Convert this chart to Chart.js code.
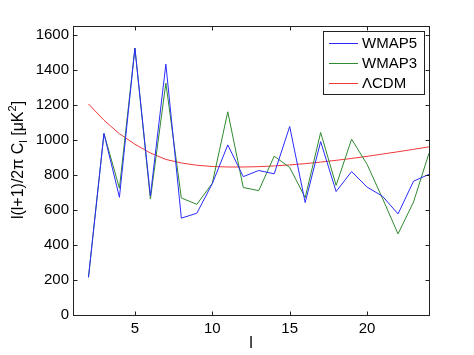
<!DOCTYPE html>
<html>
<head>
<meta charset="utf-8">
<script src="https://cdn.jsdelivr.net/npm/chart.js@4.4.0/dist/chart.umd.min.js"></script>
<style>
  html, body { margin: 0; padding: 0; background: #fff; }
  #wrap { width: 474px; height: 355px; }
</style>
</head>
<body>
<div id="wrap"><canvas id="c" width="474" height="355"></canvas></div>
<script>
// ---- data ----
const ells = [2, 3, 4, 5, 6, 7, 8, 9, 10, 11, 12, 13, 14, 15, 16, 17, 18, 19, 20, 21, 22, 23, 24];
const wmap5 = [215, 1036, 672, 1524, 680, 1432, 553, 581, 750, 971, 790, 825, 806, 1076, 642, 990, 705, 819, 730, 678, 577, 764, 803];
const wmap3 = [215, 1036, 724, 1524, 662, 1324, 668, 632, 752, 1160, 728, 710, 907, 842, 670, 1042, 740, 1004, 860, 665, 463, 645, 924];
const lcdm  = [1205, 1112, 1035, 975, 925, 888, 868, 855, 848, 845, 845, 847, 851, 857, 864, 873, 883, 894, 906, 919, 932, 946, 960];
const xTicks = [5, 10, 15, 20];
const yTicks = [0, 200, 400, 600, 800, 1000, 1200, 1400, 1600];
const seriesLabels = ['WMAP5', 'WMAP3', '\u039BCDM'];
const xTitle = 'l';

const FONT = '"Liberation Sans", Arial, Helvetica, sans-serif';
const colors = ['#2a2aff', '#2f8a2f', '#f03838'];

function pts(arr) { return ells.map((l, i) => ({ x: l, y: arr[i] })); }

const boxPlugin = {
  id: 'boxPlugin',
  afterDraw(chart) {
    const ctx = chart.ctx;
    const a = chart.chartArea;
    const xs = chart.scales.x, ys = chart.scales.y;
    ctx.save();
    ctx.strokeStyle = '#222';
    ctx.lineWidth = 1;
    const L = Math.round(a.left) + 0.5, R = Math.round(a.right) + 0.5;
    const T = Math.round(a.top) + 0.5, B = Math.round(a.bottom) + 0.5;
    ctx.strokeRect(L, T, R - L, B - T);
    const tl = 4;
    ctx.beginPath();
    xTicks.forEach(v => {
      const px = Math.round(xs.getPixelForValue(v)) + 0.5;
      ctx.moveTo(px, B); ctx.lineTo(px, B - tl);
      ctx.moveTo(px, T); ctx.lineTo(px, T + tl);
    });
    yTicks.forEach(v => {
      const py = Math.round(ys.getPixelForValue(v)) + 0.5;
      ctx.moveTo(L, py); ctx.lineTo(L + tl, py);
      ctx.moveTo(R, py); ctx.lineTo(R - tl, py);
    });
    ctx.stroke();

    // legend
    const lx = 323.5, ly = 31.5, lw = 101, lh = 63;
    ctx.fillStyle = '#fff';
    ctx.fillRect(lx, ly, lw, lh);
    ctx.strokeStyle = '#222';
    ctx.strokeRect(lx, ly, lw, lh);
    ctx.font = '15px ' + FONT;
    ctx.textBaseline = 'middle';
    ctx.textAlign = 'left';
    for (let i = 0; i < seriesLabels.length; i++) {
      const y = 43.5 + i * 20;
      ctx.beginPath();
      ctx.strokeStyle = colors[i];
      ctx.lineWidth = 1;
      ctx.moveTo(329, y);
      ctx.lineTo(358, y);
      ctx.stroke();
      ctx.fillStyle = '#000';
      ctx.fillText(seriesLabels[i], 362, y + 0.5);
    }

    // x title
    ctx.fillStyle = '#000';
    ctx.font = '16px ' + FONT;
    ctx.textAlign = 'center';
    ctx.textBaseline = 'middle';
    ctx.fillText(xTitle, (a.left + a.right) / 2, 344);

    // y title with sub/superscripts
    const parts = [
      { t: 'l(l+1)/2\u03C0 C', s: 16, dy: 0 },
      { t: 'l', s: 11, dy: 4 },
      { t: ' [\u03BCK', s: 16, dy: 0 },
      { t: '2', s: 11, dy: -7 },
      { t: ']', s: 16, dy: 0 }
    ];
    let total = 0;
    parts.forEach(p => { ctx.font = p.s + 'px ' + FONT; p.w = ctx.measureText(p.t).width; total += p.w; });
    ctx.translate(17, 160);
    ctx.rotate(-Math.PI / 2);
    ctx.textAlign = 'left';
    ctx.textBaseline = 'alphabetic';
    let cx = -total / 2;
    parts.forEach(p => {
      ctx.font = p.s + 'px ' + FONT;
      ctx.fillText(p.t, cx, 6 + p.dy);
      cx += p.w;
    });
    ctx.restore();
  }
};

const chart = new Chart(document.getElementById('c'), {
  type: 'line',
  data: {
    datasets: [
      { label: seriesLabels[0], data: pts(wmap5), borderColor: colors[0] },
      { label: seriesLabels[1], data: pts(wmap3), borderColor: colors[1] },
      { label: seriesLabels[2], data: pts(lcdm), borderColor: colors[2] }
    ].map(d => Object.assign(d, { borderWidth: 1, pointRadius: 0, tension: 0, fill: false }))
  },
  options: {
    responsive: false,
    devicePixelRatio: 1,
    animation: false,
    layout: { padding: { top: 26, right: 45, left: 0, bottom: 0 } },
    plugins: { legend: { display: false }, tooltip: { enabled: false } },
    scales: {
      x: {
        type: 'linear', min: 1, max: 24,
        grid: { display: false, drawTicks: false },
        border: { display: false },
        afterBuildTicks: s => { s.ticks = xTicks.map(v => ({ value: v })); },
        afterFit: s => { s.height = 40; },
        ticks: { color: '#000', font: { family: FONT, size: 15 }, padding: 5, maxRotation: 0, autoSkip: false,
                 callback: v => String(v) }
      },
      y: {
        type: 'linear', min: 0, max: 1650,
        grid: { display: false, drawTicks: false },
        border: { display: false },
        afterBuildTicks: s => { s.ticks = yTicks.map(v => ({ value: v })); },
        afterFit: s => { s.width = 73; },
        ticks: { color: '#000', font: { family: FONT, size: 15 }, padding: 4, autoSkip: false,
                 callback: v => String(v) }
      }
    }
  },
  plugins: [boxPlugin]
});
</script>
</body>
</html>
